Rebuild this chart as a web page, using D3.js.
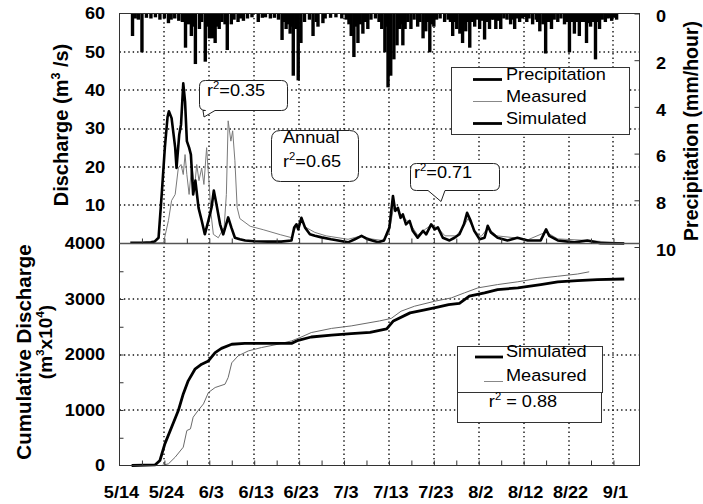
<!DOCTYPE html>
<html>
<head>
<meta charset="utf-8">
<script src="https://cdn.jsdelivr.net/npm/d3@7"></script>
<style>
	body { margin: 0; background: #fff; }
	svg { font-family: "Liberation Sans", Arial, sans-serif; }
</style>
</head>
<body>
<div id="container"></div>
<script>
(function () {
	// ---------- data (day 0 = 5/14) ----------
	var tickLabels = ["5/14", "5/24", "6/3", "6/13", "6/23", "7/3", "7/13", "7/23", "8/2", "8/12", "8/22", "9/1"];
	var qTicks = [10, 20, 30, 40, 50, 60];
	var pTicks = [0, 2, 4, 6, 8, 10];
	var cTicks = [0, 1000, 2000, 3000, 4000];

	// hourly precipitation, [day, mm/hour]
	var precip = [
		[2.9, 0.9], [3.5, 0.15], [4.2, 0.2], [5.0, 1.6], [6.0, 0.12], [7.0, 0.15], [8.0, 0.1], [9.0, 0.2],
		[10.0, 0.15], [10.9, 0.35], [11.5, 0.2], [12.3, 0.15], [13.2, 0.25], [14.0, 0.3], [14.7, 1.4],
		[15.4, 0.4], [16.0, 0.9], [16.4, 0.5], [16.9, 2.1], [17.8, 0.6], [18.3, 0.3], [19.1, 2.0],
		[19.6, 0.5], [20.0, 1.0], [20.3, 0.4], [20.7, 1.0], [21.3, 1.2], [21.8, 0.5], [22.2, 0.6],
		[22.8, 0.3], [23.5, 0.4], [24.0, 1.5], [24.9, 0.4], [25.5, 0.2], [26.4, 0.3], [26.9, 0.15],
		[27.6, 0.25], [28.5, 0.15], [29.5, 0.1], [30.9, 0.3], [31.8, 0.12], [32.5, 0.1], [33.6, 0.15],
		[34.5, 0.12], [35.4, 0.2], [36.2, 1.07], [36.7, 0.3], [37.1, 0.6], [37.6, 0.4], [38.0, 0.8],
		[38.3, 0.5], [38.7, 2.6], [39.3, 0.6], [39.8, 2.8], [40.4, 1.2], [41.2, 0.3], [42.3, 0.2],
		[43.1, 0.9], [43.8, 0.3], [44.2, 0.5], [45.3, 0.35], [45.8, 0.15], [47.0, 0.12], [48.2, 0.1],
		[49.5, 0.15], [50.5, 0.2], [51.1, 0.4], [51.6, 0.9], [52.2, 1.8], [52.7, 0.5], [53.1, 1.2],
		[53.6, 0.4], [54.2, 0.8], [54.8, 0.3], [55.3, 0.6], [56.0, 0.2], [57.0, 0.15], [57.8, 0.3],
		[58.4, 0.6], [59.1, 1.6], [59.5, 0.5], [59.8, 3.1], [60.4, 2.6], [61.1, 1.9], [61.8, 1.3],
		[62.4, 0.6], [62.9, 0.4], [63.1, 1.3], [63.6, 0.6], [64.2, 0.3], [64.9, 0.6], [65.6, 0.2],
		[66.4, 0.5], [66.9, 0.3], [67.6, 1.0], [68.2, 0.7], [68.7, 0.3], [69.1, 1.6], [69.6, 0.4],
		[70.0, 0.5], [70.6, 0.2], [71.4, 0.15], [72.4, 0.3], [73.2, 0.2], [73.7, 0.3], [74.2, 0.9],
		[74.7, 0.3], [75.1, 0.6], [75.8, 0.8], [76.4, 1.2], [76.9, 0.4], [77.1, 0.7], [77.6, 0.3],
		[78.0, 1.4], [78.6, 0.3], [79.1, 0.5], [79.7, 0.2], [80.2, 0.6], [80.7, 0.25], [81.3, 1.05],
		[81.9, 0.3], [82.4, 0.6], [82.9, 0.2], [83.3, 0.2], [83.8, 0.6], [84.4, 0.25], [84.9, 0.6],
		[85.6, 0.15], [86.3, 0.2], [87.1, 0.4], [87.6, 0.2], [88.0, 0.6], [88.6, 0.15], [89.1, 0.3],
		[89.7, 0.15], [90.2, 0.1], [90.7, 0.3], [91.2, 0.15], [92.0, 0.4], [92.8, 0.2], [93.1, 0.3],
		[93.6, 0.7], [94.3, 0.4], [94.9, 1.65], [95.5, 0.3], [96.2, 0.6], [96.8, 0.2], [97.6, 0.3],
		[98.3, 0.15], [99.1, 0.4], [99.6, 0.3], [100.2, 1.6], [100.8, 0.3], [101.3, 0.8], [101.9, 0.3],
		[102.4, 0.9], [102.9, 0.3], [103.4, 0.3], [104.0, 1.2], [104.4, 0.35], [104.9, 0.5], [105.4, 0.3],
		[106.0, 1.9], [106.4, 0.3], [106.9, 0.6], [107.5, 0.2], [108.2, 0.3], [108.8, 0.15], [109.2, 0.12],
		[109.6, 0.25], [110.2, 0.12], [110.7, 0.2]
	];

	// discharge, [day, m3/s]
	var qSim = [
		[2.4, 0.2], [5, 0.2], [7, 0.3], [7.8, 0.5], [8.7, 1.5], [9.4, 12.8], [10.1, 25], [10.7, 33],
		[11.0, 34.5], [11.6, 32.7], [12.4, 25], [12.7, 19.7], [13.3, 28.4], [13.7, 31], [14.2, 41.8],
		[14.6, 37], [15.0, 26.7], [15.5, 25], [15.9, 23.2], [16.4, 12.8], [16.9, 16.4], [17.6, 9.3],
		[18.3, 6], [19.0, 2.4], [19.8, 6], [20.5, 9.4], [21.0, 13.8], [21.6, 10.2], [22.4, 5],
		[23.1, 2.4], [24.2, 6.8], [24.9, 4.2], [25.7, 1.5], [26.8, 1.1], [28, 0.8], [30, 0.6], [33, 0.5],
		[36, 0.5], [38.3, 0.8], [38.9, 4.2], [39.4, 5], [39.8, 3.7], [40.5, 6.7], [41.3, 4.2], [42.4, 2.4],
		[43.5, 2.0], [45, 1.6], [47.1, 1.1], [49, 0.7], [50.9, 0.3], [52.4, 1.1], [53.9, 2.0], [55.3, 1.1],
		[57.6, 0.3], [58.9, 0.8], [60.1, 4.2], [60.9, 12.4], [61.4, 8.5], [62.0, 9.3], [62.6, 6.7],
		[63.1, 7.6], [63.8, 5.0], [64.6, 5.9], [65.3, 3.3], [66.4, 1.5], [67.6, 3.3], [68.3, 2.4],
		[69.4, 5.0], [70.2, 3.7], [70.9, 4.2], [72.0, 1.5], [73.5, 0.8], [74.6, 1.5], [75.7, 2.4],
		[76.7, 5.0], [77.4, 8.0], [78.2, 5.9], [79.0, 3.3], [80.2, 1.1], [81.3, 1.5], [82.0, 4.6],
		[82.7, 2.9], [84.2, 1.5], [86.4, 0.8], [88.6, 1.5], [90.9, 0.8], [93.8, 0.8], [95.0, 3.7],
		[95.7, 2.0], [97.6, 0.8], [101.3, 0.3], [104.2, 0.8], [107.1, 0.1], [112.4, 0]
	];
	var qMeas = [
		[2.4, 0], [9.8, 0.2], [10.9, 6], [11.6, 11.2], [12.4, 12.8], [13.1, 19.7], [13.7, 20.6], [14.2, 18],
		[14.6, 23.2], [15.0, 18], [15.5, 12.8], [16.1, 20.6], [16.7, 14.5], [17.2, 20.6], [17.7, 16.4],
		[18.3, 19.7], [18.8, 15.4], [19.4, 25], [19.9, 16.4], [20.4, 7.6], [20.9, 2.4], [22.0, 1.5],
		[23.3, 4.2], [23.8, 12.8], [24.2, 32], [24.8, 26.7], [25.2, 29.4], [25.7, 21.6], [26.2, 9.4],
		[26.8, 6.5], [29.1, 4.5], [32, 3.6], [35.8, 2.3], [38.4, 1.5], [39.3, 4.5], [40.4, 6.0], [41.5, 4.2],
		[43.5, 2.9], [46, 2.0], [50.9, 1.1], [53.9, 2.0], [56, 1.2], [58.5, 0.8], [60, 2.5], [61, 9.3],
		[62, 8.5], [63, 7.0], [64.5, 5.5], [66.4, 2.2], [67.6, 3.3], [69.4, 4.8], [70.9, 4.0], [72.5, 2.0],
		[75, 2.0], [76.7, 4.5], [77.6, 6.5], [79, 3.5], [80.5, 1.8], [82, 4.0], [84, 2.0], [88, 1.5],
		[91, 1.0], [95, 3.0], [97.6, 1.2], [104, 0.8], [110, 0.3], [112.4, 0.2]
	];

	// cumulative discharge, [day, m3 x 10^4]
	var cSim = [
		[2.7, 0], [7.9, 10], [9.0, 90], [10.1, 390], [11.6, 690], [13.1, 990], [14.2, 1290], [15.3, 1525],
		[16.8, 1735], [18.3, 1825], [19.8, 1885], [21.3, 2035], [22.7, 2110], [25.0, 2185], [27.9, 2200],
		[38.3, 2200], [39.8, 2255], [42.7, 2315], [47.2, 2350], [51.6, 2375], [55.8, 2400], [59.5, 2460],
		[61.0, 2605], [64.7, 2750], [67.7, 2800], [70.6, 2850], [73.3, 2900], [75.7, 2920], [77.9, 3050],
		[81.3, 3110], [84.2, 3170], [88.7, 3200], [93.8, 3260], [97.6, 3310], [102, 3330], [106.4, 3350],
		[112.4, 3360]
	];
	var cMeas = [
		[9.4, 0], [10.9, 30], [12.4, 150], [14.2, 330], [15.0, 630], [15.8, 660], [16.4, 870], [17.5, 990],
		[18.7, 1110], [19.8, 1315], [21.3, 1405], [23.5, 1465], [24.2, 1585], [25.0, 1850], [26.4, 1975],
		[28.7, 2065], [31.6, 2125], [35.3, 2185], [38.3, 2245], [40.2, 2305], [42.7, 2395], [47.2, 2470],
		[51.6, 2515], [57.9, 2605], [60.5, 2650], [62.7, 2780], [65.7, 2870], [70.2, 2960], [73.9, 3020],
		[76.8, 3110], [79.8, 3200], [84.2, 3260], [88.7, 3310], [93.1, 3370], [97.6, 3410], [102, 3450],
		[104.6, 3490]
	];

	// ---------- layout ----------
	var W = 703, H = 504;
	var L = 119.5, R = 639.5, T = 13.5, M = 243.5, B = 465.5;
	var SX = 1.1; // scanned figure text is a bit wide

	var x = d3.scaleLinear().domain([0, 115.8]).range([L, R]);
	var yQ = d3.scaleLinear().domain([0, 60]).range([M, T]);
	var yP = d3.scaleLinear().domain([0, 10]).range([T, 247]);
	var yC = d3.scaleLinear().domain([0, 4000]).range([B, M]);

	var svg = d3.select("#container").append("svg")
		.attr("width", W)
		.attr("height", H);

	// dotted grid
	var grid = svg.append("g");
	function gridLine(x1, y1, x2, y2) {
		grid.append("path")
			.attr("d", "M" + x1 + "," + y1 + "L" + x2 + "," + y2)
			.attr("fill", "none")
			.attr("stroke", "#111")
			.attr("stroke-width", 1.4)
			.attr("stroke-dasharray", "1.4,3");
	}
	d3.range(10, 111, 10).forEach(function (d) {
		var xx = Math.round(x(d));
		gridLine(xx, T, xx, B);
	});
	qTicks.slice(0, 5).forEach(function (d) {
		var yy = Math.round(yQ(d));
		gridLine(L, yy, R, yy);
	});
	cTicks.slice(1, 4).forEach(function (d) {
		var yy = Math.round(yC(d));
		gridLine(L, yy, R, yy);
	});

	// lines
	var lineQ = d3.line().x(d => x(d[0])).y(d => yQ(d[1]));
	var lineC = d3.line().x(d => x(d[0])).y(d => yC(d[1]));

	function drawLine(data, gen, color, w) {
		svg.append("path")
			.datum(data)
			.attr("d", gen)
			.attr("fill", "none")
			.attr("stroke", color)
			.attr("stroke-width", w)
			.attr("stroke-linejoin", "round");
	}
	drawLine(qMeas, lineQ, "#7a7a7a", 1);
	drawLine(qSim, lineQ, "#000", 2.6);
	drawLine(cMeas, lineC, "#6a6a6a", 1);
	drawLine(cSim, lineC, "#000", 2.8);

	// precipitation bars hanging from the top
	svg.append("g").selectAll("rect")
		.data(precip)
		.enter().append("rect")
		.attr("x", d => x(d[0]) - 1.7)
		.attr("width", 3.4)
		.attr("y", T)
		.attr("height", d => yP(d[1]) - T + 1.5)
		.attr("fill", "#000");

	// frames
	svg.append("rect")
		.attr("x", L).attr("y", T)
		.attr("width", R - L).attr("height", B - T)
		.attr("fill", "none").attr("stroke", "#333").attr("stroke-width", 1);
	svg.append("line")
		.attr("x1", L).attr("x2", R)
		.attr("y1", M).attr("y2", M)
		.attr("stroke", "#555").attr("stroke-width", 1.5);

	// axes
	function styleTicks(g, size) {
		g.select(".domain").remove();
		g.selectAll(".tick line").attr("stroke", "#333");
		g.selectAll(".tick text")
			.attr("font-size", size)
			.attr("font-weight", "bold")
			.attr("fill", "#000")
			.attr("transform", "scale(" + SX + ",1)");
	}

	// minor x ticks every 5 days
	[M, B].forEach(function (yy) {
		svg.append("g")
			.attr("transform", "translate(0," + yy + ")")
			.call(d3.axisBottom(x).tickValues(d3.range(5, 115, 5)).tickSize(-5).tickFormat(""))
			.call(g => styleTicks(g, 0));
	});

	svg.append("g")
		.attr("transform", "translate(1.5," + B + ")")
		.call(d3.axisBottom(x).tickValues(d3.range(0, 111, 10)).tickSize(0).tickPadding(21)
			.tickFormat((d, i) => tickLabels[i]))
		.call(g => styleTicks(g, 16.5));

	svg.append("g")
		.attr("transform", "translate(" + L + ",0)")
		.call(d3.axisLeft(yQ).tickValues(qTicks).tickSize(0).tickPadding(13).tickFormat(d3.format("d")))
		.call(g => styleTicks(g, 16.5));

	svg.append("g")
		.attr("transform", "translate(" + L + ",0)")
		.call(d3.axisLeft(yC).tickValues(d3.range(500, 4000, 500)).tickSize(-4).tickFormat(""))
		.call(g => styleTicks(g, 0));
	svg.append("g")
		.attr("transform", "translate(" + L + ",0)")
		.call(d3.axisLeft(yC).tickValues(cTicks).tickSize(0).tickPadding(13).tickFormat(d3.format("d")))
		.call(g => styleTicks(g, 16.5));

	svg.append("g")
		.attr("transform", "translate(" + R + ",0)")
		.call(d3.axisRight(yP).tickValues(pTicks).tickSize(-5).tickPadding(15).tickFormat(d3.format("d")))
		.call(g => styleTicks(g, 16.5))
		.selectAll(".tick text").attr("y", 3);

	// text helpers
	function rich(t, parts, size) {
		var up = 0;
		parts.forEach(function (p) {
			var dy = p[1] ? -0.42 * size : (up ? 0.42 * size : 0);
			up = p[1];
			t.append("tspan")
				.attr("font-size", p[1] ? size * 0.62 : size)
				.attr("dy", dy)
				.text(p[0]);
		});
		return t;
	}
	function label(tx, ty, parts, size, opts) {
		opts = opts || {};
		var g = svg.append("g")
			.attr("transform", "translate(" + tx + "," + ty + ")" +
				(opts.rotate ? " rotate(" + opts.rotate + ")" : " scale(" + SX + ",1)"));
		var t = g.append("text")
			.attr("text-anchor", opts.anchor || "start")
			.attr("font-weight", opts.bold ? "bold" : "normal")
			.attr("fill", "#000");
		if (opts.center) t.attr("dy", "0.35em");
		return rich(t, parts, size);
	}

	// axis titles
	label(68, 125, [["Discharge (m", 0], ["3", 1], [" /s)", 0]], 20, { rotate: -90, anchor: "middle", bold: true });
	label(31, 352, [["Cumulative Discharge", 0]], 20.5, { rotate: -90, anchor: "middle", bold: true });
	label(52, 342, [["(m", 0], ["3", 1], ["x10", 0], ["4", 1], [")", 0]], 19, { rotate: -90, anchor: "middle", bold: true });
	label(698, 131, [["Precipitation (mm/hour)", 0]], 19.5, { rotate: -90, anchor: "middle", bold: true });

	// callout boxes
	function callout(x0, y0, x1, y1, r, w) {
		var p = "M" + (x0 + r) + "," + y0 + "H" + (x1 - r) +
			"Q" + x1 + "," + y0 + " " + x1 + "," + (y0 + r) +
			"V" + (y1 - r) + "Q" + x1 + "," + y1 + " " + (x1 - r) + "," + y1;
		if (w) p += "H" + w[1] + "L" + w[2] + "," + w[3] + "L" + w[0] + "," + y1;
		p += "H" + (x0 + r) + "Q" + x0 + "," + y1 + " " + x0 + "," + (y1 - r) +
			"V" + (y0 + r) + "Q" + x0 + "," + y0 + " " + (x0 + r) + "," + y0 + "Z";
		svg.append("path")
			.attr("d", p)
			.attr("fill", "#fff")
			.attr("stroke", "#222")
			.attr("stroke-width", 1);
	}
	callout(199.5, 80.5, 287.5, 110.5, 6, [203, 215, 204, 117]);
	callout(271.5, 130.5, 358.5, 181.5, 9, null);
	callout(410.5, 163.5, 499.5, 190.5, 6, [428, 445, 441, 201.5]);

	label(207, 96, [["r", 0], ["2", 1], ["=0.35", 0]], 16.5, { center: true });
	label(283, 143, [["Annual", 0]], 16.5, { center: true });
	label(283, 167, [["r", 0], ["2", 1], ["=0.65", 0]], 16.5, { center: true });
	label(414, 178, [["r", 0], ["2", 1], ["=0.71", 0]], 16.5, { center: true });

	// legends
	function box(x0, y0, x1, y1) {
		svg.append("rect")
			.attr("x", x0).attr("y", y0)
			.attr("width", x1 - x0).attr("height", y1 - y0)
			.attr("fill", "#fff").attr("stroke", "#333").attr("stroke-width", 1);
	}
	function key(x0, x1, yy, color, w) {
		svg.append("line")
			.attr("x1", x0).attr("x2", x1)
			.attr("y1", yy).attr("y2", yy)
			.attr("stroke", color).attr("stroke-width", w);
	}

	box(451.5, 67.5, 629.5, 134.5);
	key(473, 502, 79.5, "#000", 2.8);
	key(473, 502, 101.5, "#888", 1);
	key(473, 502, 123.5, "#000", 2.8);
	label(506, 79.5, [["Precipitation", 0]], 16.5, { center: true });
	label(506, 101.5, [["Measured", 0]], 16.5, { center: true });
	label(506, 123.5, [["Simulated", 0]], 16.5, { center: true });

	box(457.5, 346.5, 602.5, 392.5);
	box(457.5, 392.5, 601.5, 422.5);
	key(475, 503, 357, "#000", 2.8);
	key(484, 503, 381.5, "#888", 1);
	label(506, 357, [["Simulated", 0]], 16.5, { center: true });
	label(506, 381, [["Measured", 0]], 16.5, { center: true });
	label(523, 407, [["r", 0], ["2", 1], [" = 0.88", 0]], 16.5, { center: true, anchor: "middle" });
})();
</script>
</body>
</html>
